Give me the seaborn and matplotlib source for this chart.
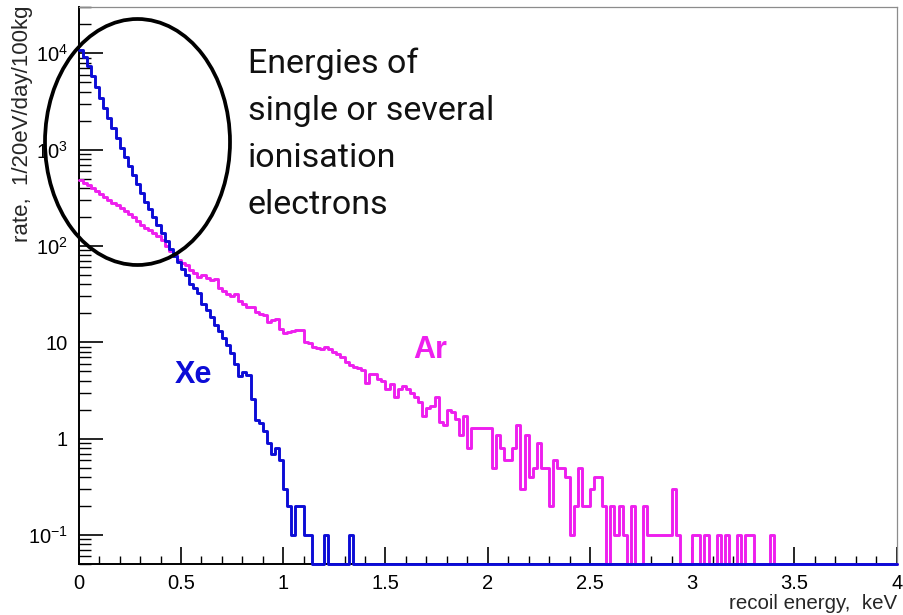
import numpy as np
import pandas as pd
import matplotlib
matplotlib.use("Agg")
import matplotlib.pyplot as plt
from matplotlib.patches import Ellipse
from matplotlib.ticker import FixedLocator, LogLocator, MultipleLocator, FuncFormatter, NullFormatter
import seaborn as sns

# Recoil-energy spectra, 20 eV bins from 0 to 4 keV (rate per bin, 1/day/100kg)
bin_width_kev = 0.02
n_bins = 200

xe_rate = [
    10700, 9100, 7400, 5750, 4470, 3470, 2700, 2140, 1660, 1320,
    1050, 830, 676, 550, 436, 355, 288, 240, 200, 166,
    138, 112, 93, 79, 69, 57.5, 50, 40.7, 36.3, 32.4,
    25.1, 21.4, 18.2, 15.1, 13.2, 11.0, 9.3, 7.8, 6.0, 4.5,
    4.9, 4.6, 2.6, 1.55, 1.45, 1.2, 0.9, 0.7, 0.8, 0.6,
    0.3, 0.2, 0.1, 0.2, 0.2, 0.1, 0.1, 0, 0, 0,
    0.1, 0, 0, 0, 0, 0, 0.1, 0, 0, 0,
    0, 0, 0, 0, 0, 0, 0, 0, 0, 0,
    0, 0, 0, 0, 0, 0, 0, 0, 0, 0,
    0, 0, 0, 0, 0, 0, 0, 0, 0, 0,
    0, 0, 0, 0, 0, 0, 0, 0, 0, 0,
    0, 0, 0, 0, 0, 0, 0, 0, 0, 0,
    0, 0, 0, 0, 0, 0, 0, 0, 0, 0,
    0, 0, 0, 0, 0, 0, 0, 0, 0, 0,
    0, 0, 0, 0, 0, 0, 0, 0, 0, 0,
    0, 0, 0, 0, 0, 0, 0, 0, 0, 0,
    0, 0, 0, 0, 0, 0, 0, 0, 0, 0,
    0, 0, 0, 0, 0, 0, 0, 0, 0, 0,
    0, 0, 0, 0, 0, 0, 0, 0, 0, 0,
    0, 0, 0, 0, 0, 0, 0, 0, 0, 0,
]

ar_rate = [
    480, 455, 425, 400, 370, 345, 325, 300, 280, 265,
    245, 230, 215, 200, 182, 166, 155, 145, 135, 126,
    115, 100, 89, 81, 72, 66, 63, 56, 52, 48,
    50, 46, 44, 45, 37, 34, 32, 30, 32, 27,
    25, 23.5, 23, 20.4, 19.5, 19, 16.2, 17, 17.4, 13.8,
    12.6, 12.9, 13.2, 13.5, 13.5, 10, 9.8, 8.9, 8.7, 8.5,
    8.9, 8.5, 7.9, 7.6, 7.1, 6.3, 5.8, 5.5, 5.4, 5.1,
    3.8, 4.7, 4.7, 4.2, 4.0, 3.3, 3.7, 2.7, 3.3, 3.5,
    3.3, 3.0, 2.7, 2.4, 1.7, 2.1, 2.2, 2.7, 1.5, 1.4,
    2.0, 1.9, 1.6, 1.1, 1.7, 0.8, 1.3, 1.3, 1.3, 1.3,
    1.3, 0.5, 1.1, 0.8, 0.6, 0.6, 0.8, 1.4, 0.3, 1.1,
    0.4, 0.5, 0.9, 0.5, 0.5, 0.2, 0.6, 0.5, 0.5, 0.4,
    0.1, 0.2, 0.5, 0.2, 0.2, 0.3, 0.4, 0.4, 0.2, 0,
    0.2, 0.1, 0.2, 0.1, 0, 0.2, 0, 0, 0.2, 0.1,
    0.1, 0.1, 0.1, 0.1, 0.1, 0.3, 0.1, 0, 0, 0,
    0.1, 0.1, 0, 0.1, 0, 0, 0.1, 0, 0.1, 0,
    0, 0.1, 0, 0.1, 0.1, 0, 0, 0, 0, 0.1,
    0, 0, 0, 0, 0, 0, 0, 0, 0, 0,
    0, 0, 0, 0, 0, 0, 0, 0, 0, 0,
    0, 0, 0, 0, 0, 0, 0, 0, 0, 0,
]

y_tick_values = [0.1, 1, 10, 100, 1000, 10000]
y_tick_labels = [r"$10^{-1}$", "1", "10", r"$10^{2}$", r"$10^{3}$", r"$10^{4}$"]

xe_color = "#0c0cd6"
ar_color = "#ee1fee"

sns.set_theme(style="white")
plt.rcParams["font.family"] = ["Liberation Sans", "DejaVu Sans"]
plt.rcParams["mathtext.fontset"] = "custom"
plt.rcParams["mathtext.rm"] = "Liberation Sans"
plt.rcParams["mathtext.it"] = "Liberation Sans:italic"
plt.rcParams["mathtext.bf"] = "Liberation Sans:bold"

edges = np.round(np.arange(n_bins + 1) * bin_width_kev, 4)
centers = (edges[:-1] + edges[1:]) / 2
y_lo, y_hi = 0.05, 3.0e4

fig = plt.figure(figsize=(9.04, 6.15), dpi=100)
ax = fig.add_axes([0.0871, 0.0829, 0.9048, 0.9052])

# empty bins are drawn along the lower frame edge, as in a ROOT histogram
for rate, color in [(ar_rate, ar_color), (xe_rate, xe_color)]:
    rate = np.asarray(rate, dtype=float)
    spec = pd.DataFrame({"energy": centers,
                         "rate": np.where(rate > 0, rate, y_lo)})
    sns.histplot(data=spec, x="energy", weights="rate", bins=list(edges),
                 element="step", fill=False, color=color, linewidth=2.1, ax=ax)
    line = ax.lines[-1]
    line.set_clip_on(False)
    line.set_zorder(3)

ax.set_yscale("log")
ax.set_xlim(0, 4)
ax.set_ylim(y_lo, y_hi)

ax.xaxis.set_major_locator(MultipleLocator(0.5))
ax.xaxis.set_minor_locator(MultipleLocator(0.1))
ax.xaxis.set_major_formatter(FuncFormatter(lambda v, p: f"{v:g}"))
ax.yaxis.set_major_locator(FixedLocator(y_tick_values))
ax.yaxis.set_major_formatter(FuncFormatter(
    lambda v, p: dict(zip(y_tick_values, y_tick_labels)).get(v, "")))
ax.yaxis.set_minor_locator(LogLocator(base=10, subs=np.arange(2, 10)))
ax.yaxis.set_minor_formatter(NullFormatter())

ax.tick_params(axis="x", which="major", direction="in", length=12, width=1.2,
               pad=7, labelsize=14.5, color="black", labelcolor="black",
               bottom=True, top=False)
ax.tick_params(axis="x", which="minor", direction="in", length=6, width=1.0,
               color="black", bottom=True, top=False)
ax.tick_params(axis="y", which="major", direction="in", length=17, width=1.2,
               pad=8, labelsize=14.5, color="black", labelcolor="black",
               left=True, right=False)
ax.tick_params(axis="y", which="minor", direction="in", length=8.5, width=1.0,
               color="black", left=True, right=False)

for side in ["left", "bottom"]:
    ax.spines[side].set_color("black")
    ax.spines[side].set_linewidth(1.4)
for side in ["top", "right"]:
    ax.spines[side].set_color("#8c8c8c")
    ax.spines[side].set_linewidth(0.9)

ax.set_xlabel("recoil energy,  keV", fontsize=14.8, loc="right")
ax.set_ylabel("rate,  1/20eV/day/100kg", fontsize=16, loc="top")
ax.xaxis.set_label_coords(1.0, -0.054)
ax.yaxis.set_label_coords(-0.056, 1.004)

ax.text(0.471, 3.74, "Xe", color=xe_color, fontsize=22, fontweight="bold",
        va="baseline", ha="left")
ax.text(1.636, 6.8, "Ar", color=ar_color, fontsize=22, fontweight="bold",
        va="baseline", ha="left")

W, H = 904, 615
fig.add_artist(Ellipse((137.5 / W, 1 - 142 / H), 185 / W, 246 / H,
                       transform=fig.transFigure, fill=False,
                       edgecolor="black", linewidth=2.7, zorder=5))
note_lines = ["Energies of", "single or several", "ionisation", "electrons"]
for i, txt in enumerate(note_lines):
    fig.text(248 / W, 1 - (73 + 47 * i) / H, txt, fontsize=24.5,
             family="Roboto", color="#111111", va="baseline", ha="left")

fig.savefig("out.png", dpi=100)
